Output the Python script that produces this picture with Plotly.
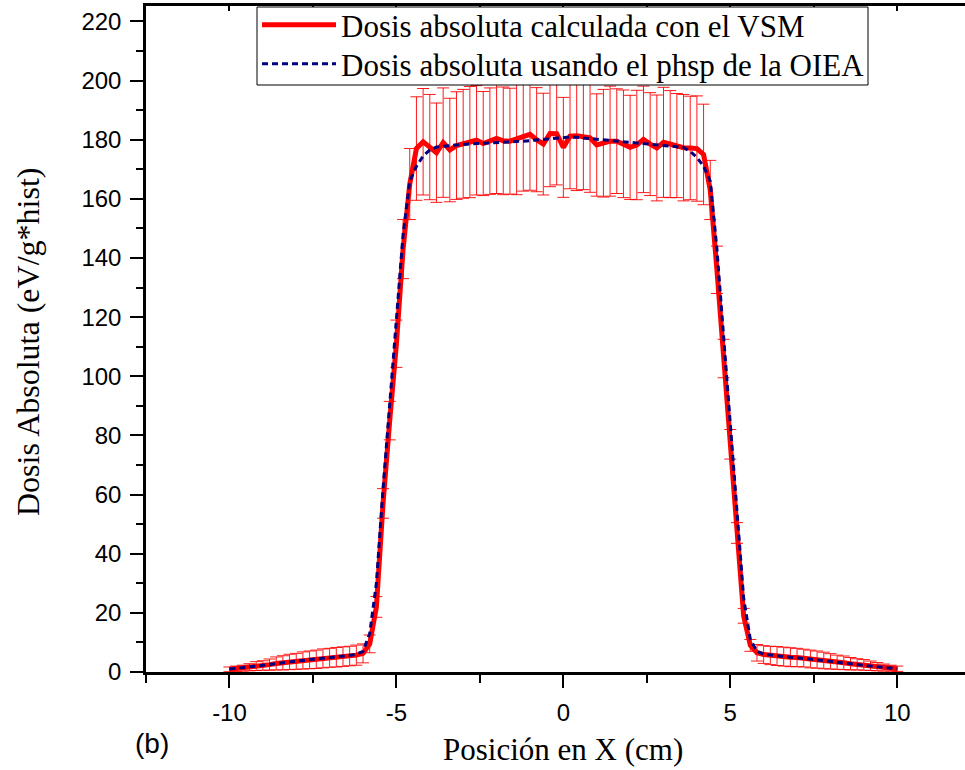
import plotly.graph_objects as go

# ---------------- data ----------------
x_pos = [round(-10 + 0.2 * i, 1) for i in range(101)]

dosis_vsm = [
    0.9, 1.1, 1.3, 1.6, 2.0, 2.2, 2.5, 2.9, 3.1, 3.4,      # -10.0 .. -8.2
    3.6, 3.9, 4.1, 4.3, 4.6, 4.8, 5.0, 5.2, 5.4, 5.7,      # -8.0 .. -6.2
    6.3, 9.5, 22, 57, 85, 111, 143, 165, 177, 179.3,       # -6.0 .. -4.2
    177.5, 175.6, 179.0, 176.5, 178.0, 178.6, 179.2, 179.8, 178.7, 179.5,  # -4.0 .. -2.2
    180.4, 179.6, 179.5, 180.3, 181.0, 181.8, 180.0, 178.5, 182.1, 182.0,  # -2.0 .. -0.2
    177.4,                                                  # 0.0
    181.2, 181.3, 181.0, 180.6, 178.2, 178.8, 179.5, 179.5, 178.6, 177.4,  # 0.2 .. 2.0
    178.2, 180.1, 178.5, 177.2, 179.1, 178.5, 178.0, 177.3, 177.2, 177.0,  # 2.2 .. 4.0
    175.0, 163, 136, 106, 77, 47, 19, 9.0, 6.5, 5.9,       # 4.2 .. 6.0
    5.6, 5.4, 5.2, 5.0, 4.9, 4.7, 4.4, 4.2, 3.9, 3.6,      # 6.2 .. 8.0
    3.3, 3.1, 2.8, 2.6, 2.4, 2.1, 1.8, 1.5, 1.3, 1.1,      # 8.2 .. 10.0
]

err_vsm = [
    0.8, 0.9, 1.0, 1.2, 1.5, 1.6, 1.9, 2.2, 2.4, 2.6,
    2.7, 2.9, 3.0, 3.1, 3.2, 3.2, 3.3, 3.3, 3.3, 3.4,
    3.2, 3.0, 3.5, 5.0, 6.5, 8.0, 10.0, 12.0, 17.5, 18.0,
    17.8, 16.8, 18.5, 17.5, 18.2, 18.4, 18.8, 18.5, 17.6, 18.0,
    18.6, 18.2, 17.9, 18.9, 18.4, 18.9, 17.6, 17.2, 18.0, 17.3,
    16.9,
    17.8, 18.5, 17.9, 18.4, 17.3, 18.2, 18.6, 17.7, 18.2, 17.6,
    18.5, 18.0, 17.4, 17.9, 18.6, 18.1, 17.6, 18.0, 17.5, 17.8,
    17.0, 10.0, 8.0, 6.5, 5.0, 3.5, 2.5, 2.0, 2.8, 3.0,
    3.1, 3.2, 3.2, 3.2, 3.1, 3.0, 3.0, 2.9, 2.8, 2.6,
    2.4, 2.3, 2.1, 1.9, 1.8, 1.6, 1.4, 1.2, 1.0, 0.9,
]

dosis_oiea = [
    1.0, 1.2, 1.4, 1.7, 2.0, 2.3, 2.6, 2.9, 3.2, 3.4,
    3.7, 3.9, 4.2, 4.4, 4.6, 4.9, 5.1, 5.3, 5.6, 6.0,
    7.0, 13, 30, 62, 90, 118, 148, 166, 171, 174.5,
    176.5, 177.5, 177.8, 178.0, 178.2, 178.4, 178.5, 178.6, 178.8, 179.0,
    179.0, 179.1, 179.2, 179.4, 179.5, 179.7, 179.9, 180.1, 180.4, 180.6,
    180.7,
    180.9, 180.8, 180.6, 180.4, 180.1, 179.8, 179.6, 179.4, 179.2, 179.0,
    178.8, 178.7, 178.5, 178.3, 178.2, 178.0, 177.8, 177.4, 176.0, 174.0,
    171.0, 166, 143, 113, 83, 53, 25, 11, 7.0, 6.0,
    5.7, 5.4, 5.2, 5.0, 4.8, 4.6, 4.4, 4.1, 3.8, 3.6,
    3.3, 3.0, 2.8, 2.5, 2.3, 2.0, 1.8, 1.5, 1.3, 1.1,
]

assert len(dosis_vsm) == 101 and len(err_vsm) == 101 and len(dosis_oiea) == 101

x_ticks = [-10, -5, 0, 5, 10]
y_ticks = list(range(0, 221, 20))

serif = "Times New Roman, Liberation Serif, serif"
sans = "Arial, Liberation Sans, sans-serif"

# plot-area pixel geometry helpers (figure 965x770)
L, R, T, B = 146, 965, 6, 672
PW, PH = R - L, B - T
def px(xp): return (xp - L) / PW
def py(yp): return (B - yp) / PH

fig = go.Figure()

fig.add_trace(go.Scatter(
    x=x_pos, y=dosis_vsm, mode="lines",
    name="Dosis absoluta calculada con el VSM",
    line=dict(color="#ff0000", width=5),
    error_y=dict(type="data", array=err_vsm, visible=True,
                 color="rgba(255,0,0,0.9)", thickness=1, width=6),
    legend="legend",
))
fig.add_trace(go.Scatter(
    x=x_pos, y=dosis_oiea, mode="lines",
    name="Dosis absoluta usando el phsp de la OIEA",
    line=dict(color="#000080", width=3, dash="6px,4px"),
    legend="legend2",
))
fig.add_trace(go.Scatter(x=[0], y=[0], xaxis="x2", mode="markers",
                         marker=dict(opacity=0), showlegend=False, hoverinfo="skip"))

leg_common = dict(
    xanchor="left", yanchor="top",
    bgcolor="rgba(0,0,0,0)", borderwidth=0,
    font=dict(family=serif, size=31, color="black"),
    itemwidth=74, tracegroupgap=0,
)

fig.update_layout(
    width=965, height=770,
    margin=dict(l=L, r=965 - R, t=T, b=770 - B, autoexpand=False),
    paper_bgcolor="white", plot_bgcolor="white",
    showlegend=True,
    legend=dict(x=px(257), y=py(-2), **leg_common),
    legend2=dict(x=px(257), y=py(37), **leg_common),
    shapes=[dict(type="rect", xref="paper", yref="paper",
                 x0=px(257), x1=px(868), y0=py(85), y1=py(7),
                 line=dict(color="black", width=1), fillcolor="white", layer="above")],
    xaxis=dict(
        range=[-12.5, 12.03], tickvals=x_ticks, ticktext=[str(v) for v in x_ticks],
        showgrid=False, zeroline=False,
        showline=True, linecolor="black", linewidth=2.5,
        ticks="outside", ticklen=13, tickwidth=2, tickcolor="black",
        tickfont=dict(family=sans, size=24, color="black"),
        ticklabelstandoff=4,
        minor=dict(dtick=2.5, tick0=-12.5, ticks="outside", ticklen=8, tickwidth=2, tickcolor="black"),
    ),
    xaxis2=dict(
        overlaying="x", side="top", range=[-12.5, 12.03],
        tick0=-12.5, dtick=2.5, showticklabels=False,
        showgrid=False, zeroline=False,
        showline=True, linecolor="black", linewidth=2.5,
        ticks="inside", ticklen=5, tickwidth=2, tickcolor="black",
    ),
    yaxis=dict(
        range=[0, 225.2], tickvals=y_ticks, ticktext=[str(v) for v in y_ticks],
        showgrid=False, zeroline=False,
        showline=True, linecolor="black", linewidth=2.5,
        ticks="outside", ticklen=13, tickwidth=2, tickcolor="black",
        tickfont=dict(family=sans, size=24, color="black"),
        ticklabelstandoff=4,
        minor=dict(dtick=10, tick0=0, ticks="outside", ticklen=7, tickwidth=2, tickcolor="black"),
    ),
    annotations=[
        dict(text="Posición en X (cm)", xref="paper", yref="paper",
             x=px(563), y=py(750), xanchor="center", yanchor="middle",
             showarrow=False, font=dict(family=serif, size=31, color="black")),
        dict(text="Dosis Absoluta (eV/g*hist)", xref="paper", yref="paper",
             x=px(28), y=py(342), xanchor="center", yanchor="middle",
             textangle=-90, showarrow=False, font=dict(family=serif, size=32, color="black")),
        dict(text="(b)", xref="paper", yref="paper",
             x=px(152), y=py(743), xanchor="center", yanchor="middle",
             showarrow=False, font=dict(family=sans, size=28, color="black")),
    ],
)

fig.write_html("out.html")
